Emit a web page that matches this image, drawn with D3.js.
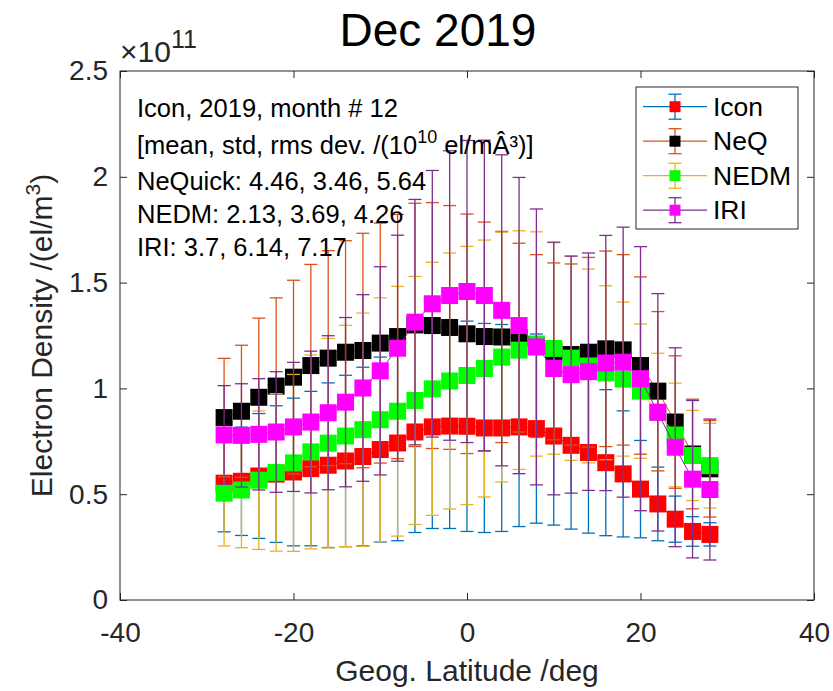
<!DOCTYPE html>
<html>
<head>
<meta charset="utf-8">
<script src="https://cdn.jsdelivr.net/npm/d3@7"></script>
<style>
  body { margin: 0; background: #fff; }
  svg { display: block; }
  text { font-family: Arial, "Liberation Sans", Helvetica, sans-serif; }
</style>
</head>
<body>
<svg id="chart" width="833" height="691"></svg>
<script>
// Latitude bins (deg)
const latitudes = [-28, -26, -24, -22, -20, -18, -16, -14, -12, -10, -8, -6, -4, -2, 0,
                   2, 4, 6, 8, 10, 12, 14, 16, 18, 20, 22, 24, 26, 28];

// Electron density means and standard deviations, in units of 1e11 el/m^3
const iconMean = [0.552, 0.561, 0.586, 0.595, 0.605, 0.621, 0.637, 0.657, 0.678, 0.711, 0.742, 0.794, 0.818, 0.822, 0.821,
                  0.813, 0.813, 0.818, 0.810, 0.775, 0.731, 0.697, 0.649, 0.596, 0.524, 0.454, 0.382, 0.324, 0.310];
const iconStd  = [0.230, 0.256, 0.295, 0.323, 0.349, 0.365, 0.389, 0.405, 0.422, 0.437, 0.462, 0.475, 0.480, 0.484, 0.497,
                  0.494, 0.489, 0.471, 0.447, 0.421, 0.396, 0.381, 0.345, 0.298, 0.230, 0.174, 0.109, 0.070, 0.055];

const neqMean  = [0.862, 0.892, 0.958, 1.011, 1.053, 1.108, 1.143, 1.171, 1.179, 1.214, 1.245, 1.300, 1.297, 1.288, 1.258,
                  1.245, 1.243, 1.240, 1.200, 1.175, 1.160, 1.171, 1.187, 1.182, 1.108, 0.987, 0.841, 0.690, 0.620];
const neqStd   = [0.280, 0.312, 0.374, 0.417, 0.458, 0.478, 0.508, 0.527, 0.554, 0.567, 0.577, 0.575, 0.581, 0.576, 0.566,
                  0.541, 0.499, 0.446, 0.432, 0.418, 0.428, 0.448, 0.462, 0.450, 0.419, 0.376, 0.313, 0.259, 0.228];

const nedmMean = [0.505, 0.520, 0.566, 0.603, 0.648, 0.700, 0.741, 0.775, 0.805, 0.852, 0.892, 0.943, 0.998, 1.035, 1.061,
                  1.094, 1.148, 1.181, 1.210, 1.189, 1.143, 1.106, 1.074, 1.044, 0.987, 0.887, 0.780, 0.683, 0.635];
const nedmStd  = [0.250, 0.273, 0.327, 0.372, 0.418, 0.458, 0.495, 0.523, 0.551, 0.576, 0.590, 0.586, 0.598, 0.605, 0.610,
                  0.607, 0.590, 0.564, 0.530, 0.500, 0.483, 0.458, 0.411, 0.364, 0.317, 0.279, 0.245, 0.213, 0.200];

const iriMean  = [0.780, 0.778, 0.783, 0.794, 0.818, 0.841, 0.885, 0.935, 1.002, 1.083, 1.190, 1.313, 1.400, 1.439, 1.458,
                  1.439, 1.369, 1.297, 1.196, 1.094, 1.065, 1.079, 1.120, 1.124, 1.046, 0.887, 0.722, 0.571, 0.522];
const iriStd   = [0.233, 0.244, 0.263, 0.285, 0.305, 0.335, 0.364, 0.400, 0.441, 0.492, 0.534, 0.580, 0.630, 0.684, 0.714,
                  0.734, 0.735, 0.700, 0.652, 0.597, 0.560, 0.561, 0.603, 0.638, 0.624, 0.561, 0.470, 0.372, 0.333];

const seriesNames  = ["Icon", "NeQ", "NEDM", "IRI"];
const lineColors   = ["#0072BD", "#D95319", "#EDB120", "#7E2F8E"];
const markerColors = ["#FF0000", "#000000", "#00FF00", "#FF00FF"];

const xTicks = [-40, -20, 0, 20, 40];
const yTicks = [0, 0.5, 1, 1.5, 2, 2.5];

const titleText = "Dec 2019";
const xLabel = "Geog. Latitude /deg";
const statsHeader = "Icon, 2019, month # 12";
const statsRows = ["NeQuick: 4.46, 3.46, 5.64", "NEDM: 2.13, 3.69, 4.26", "IRI: 3.7, 6.14, 7.17"];

const series = seriesNames.map((name, i) => ({
  name,
  line: lineColors[i],
  face: markerColors[i],
  mean: [iconMean, neqMean, nedmMean, iriMean][i],
  std:  [iconStd, neqStd, nedmStd, iriStd][i]
}));

// ---- layout ----
const svg = d3.select("#chart");
const plot = { left: 120, right: 814, top: 71, bottom: 600 };
const x = d3.scaleLinear().domain([-40, 40]).range([plot.left, plot.right]);
const y = d3.scaleLinear().domain([0, 2.5]).range([plot.bottom, plot.top]);
const axisColor = "#262626";
const tickFont = 28;
const plainNumber = d => String(d);   // hyphen-minus, as in the exported figure

svg.append("rect").attr("width", 833).attr("height", 691).attr("fill", "#fff");

// ---- data ----
const capHalf = 6.5;
const markerSize = 17;
const dataG = svg.append("g");

series.forEach(s => {
  const g = dataG.append("g");
  const pts = latitudes.map((lat, i) => ({ lat, m: s.mean[i], sd: s.std[i] }));

  // error bars
  const eb = g.append("g").attr("stroke", s.line).attr("stroke-width", 1.3).attr("fill", "none");
  pts.forEach(p => {
    const xp = x(p.lat), y0 = y(p.m - p.sd), y1 = y(p.m + p.sd);
    eb.append("line").attr("x1", xp).attr("x2", xp).attr("y1", y0).attr("y2", y1);
    eb.append("line").attr("x1", xp - capHalf).attr("x2", xp + capHalf).attr("y1", y0).attr("y2", y0);
    eb.append("line").attr("x1", xp - capHalf).attr("x2", xp + capHalf).attr("y1", y1).attr("y2", y1);
  });

  // connecting line
  g.append("path")
    .datum(pts)
    .attr("fill", "none")
    .attr("stroke", s.line)
    .attr("stroke-width", 1)
    .attr("d", d3.line().x(p => x(p.lat)).y(p => y(p.m)));

  // square markers
  g.selectAll("rect.mk").data(pts).join("rect")
    .attr("class", "mk")
    .attr("x", p => x(p.lat) - markerSize / 2)
    .attr("y", p => y(p.m) - markerSize / 2)
    .attr("width", markerSize).attr("height", markerSize)
    .attr("fill", s.face);
});

// ---- axes (ticks point inward, box on) ----
const xAxis = d3.axisBottom(x).tickValues(xTicks).tickSizeInner(-7).tickSizeOuter(0).tickPadding(22)
  .tickFormat(plainNumber);
const yAxis = d3.axisLeft(y).tickValues(yTicks).tickSizeInner(-7).tickSizeOuter(0).tickPadding(12)
  .tickFormat(plainNumber);

const gx = svg.append("g").attr("transform", `translate(0,${plot.bottom})`).call(xAxis);
const gy = svg.append("g").attr("transform", `translate(${plot.left},0)`).call(yAxis);
const gxTop = svg.append("g").attr("transform", `translate(0,${plot.top})`)
  .call(d3.axisTop(x).tickValues(xTicks).tickSizeInner(-7).tickSizeOuter(0).tickFormat(""));
const gyRight = svg.append("g").attr("transform", `translate(${plot.right},0)`)
  .call(d3.axisRight(y).tickValues(yTicks).tickSizeInner(-7).tickSizeOuter(0).tickFormat(""));

[gx, gy, gxTop, gyRight].forEach(g => {
  g.select(".domain").remove();
  g.selectAll(".tick line").attr("stroke", axisColor).attr("stroke-width", 1);
  g.selectAll(".tick text").attr("fill", axisColor).attr("font-size", tickFont)
    .style("font-family", "Arial, 'Liberation Sans', Helvetica, sans-serif");
});

svg.append("rect")
  .attr("x", plot.left).attr("y", plot.top)
  .attr("width", plot.right - plot.left).attr("height", plot.bottom - plot.top)
  .attr("fill", "none").attr("stroke", axisColor).attr("stroke-width", 1);

// exponent label above the y axis
const expT = svg.append("text").attr("x", 120).attr("y", 62).attr("fill", axisColor).attr("font-size", 30);
expT.append("tspan").text("\u00d710");
expT.append("tspan").attr("font-size", 25).attr("dy", -14).text("11");

// axis labels
svg.append("text")
  .attr("x", (plot.left + plot.right) / 2).attr("y", 681)
  .attr("text-anchor", "middle").attr("fill", axisColor).attr("font-size", 30)
  .text(xLabel);

const yl = svg.append("text")
  .attr("transform", `translate(52,${(plot.top + plot.bottom) / 2}) rotate(-90)`)
  .attr("text-anchor", "middle").attr("fill", axisColor).attr("font-size", 30);
yl.append("tspan").text("Electron Density /(el/m");
yl.append("tspan").attr("font-size", 21).attr("dy", -12).text("3");
yl.append("tspan").attr("dy", 12).text(")");

// title
svg.append("text")
  .attr("x", 438).attr("y", 46)
  .attr("text-anchor", "middle").attr("fill", "#000").attr("font-size", 46)
  .text(titleText);

// ---- statistics annotation ----
const ann = svg.append("g").attr("fill", "#000").attr("font-size", 25.5);
ann.append("text").attr("x", 137).attr("y", 117).text(statsHeader);
const unitLine = ann.append("text").attr("x", 137).attr("y", 154);
unitLine.append("tspan").text("[mean, std, rms dev. /(10");
unitLine.append("tspan").attr("font-size", 18).attr("dy", -11).text("10");
unitLine.append("tspan").attr("dy", 11).text(" el/m\u00c2\u00b3)]");
statsRows.forEach((row, i) => {
  ann.append("text").attr("x", 137).attr("y", 190 + i * 33).text(row);
});

// ---- legend ----
const lg = svg.append("g");
lg.append("rect").attr("x", 636).attr("y", 87).attr("width", 162).attr("height", 142)
  .attr("fill", "#fff").attr("stroke", axisColor).attr("stroke-width", 1);
series.forEach((s, i) => {
  const cy = 106.7 + i * 34.5;
  const cx = 675;
  const e = lg.append("g").attr("stroke", s.line).attr("stroke-width", 1.3);
  e.append("line").attr("x1", 643).attr("x2", 707).attr("y1", cy).attr("y2", cy);
  e.append("line").attr("x1", cx).attr("x2", cx).attr("y1", cy - 12.5).attr("y2", cy + 12.5);
  e.append("line").attr("x1", cx - capHalf).attr("x2", cx + capHalf).attr("y1", cy - 12.5).attr("y2", cy - 12.5);
  e.append("line").attr("x1", cx - capHalf).attr("x2", cx + capHalf).attr("y1", cy + 12.5).attr("y2", cy + 12.5);
  lg.append("rect").attr("x", cx - 5.5).attr("y", cy - 5.5).attr("width", 11).attr("height", 11).attr("fill", s.face);
  lg.append("text").attr("x", 713).attr("y", cy).attr("dy", "0.35em")
    .attr("font-size", 26.5).attr("fill", "#000").text(s.name);
});
</script>
</body>
</html>
